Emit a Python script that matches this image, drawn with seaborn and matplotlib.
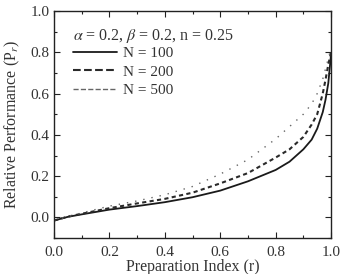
import pandas as pd
import matplotlib.pyplot as plt
import seaborn as sns

# --- Data ---
r = [0.0, 0.05, 0.1, 0.2, 0.3, 0.4, 0.5, 0.6, 0.7, 0.8, 0.85, 0.9,
     0.93, 0.95, 0.97, 0.98, 0.99, 1.0]
pr_n100 = [-0.015, 0.003, 0.015, 0.038, 0.055, 0.074, 0.098, 0.13, 0.175,
           0.23, 0.27, 0.33, 0.377, 0.43, 0.51, 0.57, 0.65, 0.79]
pr_n200 = [-0.015, 0.004, 0.018, 0.045, 0.068, 0.09, 0.12, 0.165, 0.215,
           0.29, 0.33, 0.39, 0.45, 0.5, 0.6, 0.667, 0.74, 0.8]
pr_n500 = [-0.015, 0.005, 0.022, 0.055, 0.08, 0.11, 0.15, 0.21, 0.28,
           0.38, 0.44, 0.5, 0.55, 0.6, 0.67, 0.72, 0.77, 0.82]
labels = ['N = 100', 'N = 200', 'N = 500']

df = pd.DataFrame({
    'r': r * 3,
    'Pr': pr_n100 + pr_n200 + pr_n500,
    'N': [labels[0]] * len(r) + [labels[1]] * len(r) + [labels[2]] * len(r),
})

# --- Style ---
sns.set_style('ticks')
plt.rcParams['font.family'] = ['Liberation Serif', 'DejaVu Serif']
plt.rcParams['mathtext.fontset'] = 'stix'

fig = plt.figure(figsize=(3.42, 2.74), dpi=100)
ax = fig.add_axes([0.158, 0.131, 0.81, 0.829])

sns.lineplot(data=df, x='r', y='Pr', hue='N', style='N',
             palette={labels[0]: '#1a1a1a', labels[1]: '#2a2a2a', labels[2]: '#666666'},
             dashes={labels[0]: '', labels[1]: (2, 1.6), labels[2]: (1, 5)},
             ax=ax, legend=False)

# line widths per series
for line, lw in zip(ax.lines, [1.3, 1.5, 1.0]):
    line.set_linewidth(lw)

ax.set_xlim(0, 1.0)
ax.set_ylim(-0.1, 1.0)
ax.set_xticks([0.0, 0.2, 0.4, 0.6, 0.8, 1.0])
ax.set_yticks([0.0, 0.2, 0.4, 0.6, 0.8, 1.0])
ax.set_xticks([0.1, 0.3, 0.5, 0.7, 0.9], minor=True)
ax.set_yticks([-0.1, 0.1, 0.3, 0.5, 0.7, 0.9], minor=True)
ax.xaxis.set_major_formatter(plt.FormatStrFormatter('%.1f'))
ax.yaxis.set_major_formatter(plt.FormatStrFormatter('%.1f'))
ax.tick_params(which='both', direction='in', top=True, right=True,
               labelsize=11, width=0.8, colors='#222222', labelcolor='#333333')
ax.tick_params(which='major', length=4)
ax.tick_params(which='minor', length=2.5)
ax.tick_params(axis='x', pad=6)
ax.tick_params(axis='y', pad=3.5)
for s in ax.spines.values():
    s.set_linewidth(1.0)
    s.set_color('#222222')

ax.set_xlabel('Preparation Index (r)', fontsize=11.5, labelpad=0, color='#333333')
ax.set_ylabel('Relative Performance (P$_r$)', fontsize=11.5, labelpad=6, color='#333333')

# legend with parameter line as title
handles = [plt.Line2D([], [], color=l.get_color(), linestyle=l.get_linestyle(),
                      linewidth=l.get_linewidth()) for l in ax.lines]
leg = ax.legend(handles, labels,
                title=r'$\alpha$ = 0.2, $\beta$ = 0.2, n = 0.25',
                loc='upper left', bbox_to_anchor=(0.035, 0.97),
                frameon=False, fontsize=11, title_fontsize=11.5,
                handlelength=2.9, handletextpad=0.35, labelspacing=0.32,
                borderaxespad=0.2)
leg._legend_box.align = 'left'
leg._legend_box.sep = 1
for t in leg.get_texts():
    t.set_color('#333333')
leg.get_title().set_color('#333333')

plt.savefig('out.png', dpi=100)
